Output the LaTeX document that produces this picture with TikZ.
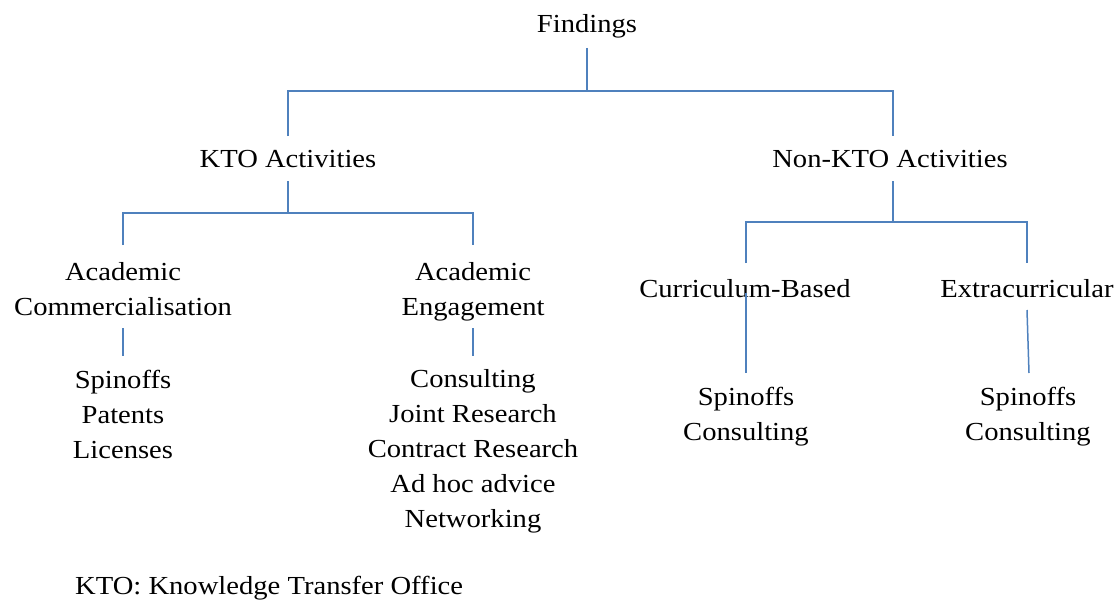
\documentclass[tikz,border=0pt]{standalone}
\usepackage{fontspec}
\setmainfont{Liberation Serif}[FakeStretch=1.1]
\definecolor{linec}{HTML}{4F81BD}
\newcommand{\lblfont}{\fontsize{26}{34.8}\selectfont}
\begin{document}
\begin{tikzpicture}[x=1pt,y=-1pt,
  conn/.style={draw=linec, line width=1.5pt},
  lbl/.style={inner sep=0pt, anchor=base, align=center, font=\lblfont}]
\useasboundingbox (0,0) rectangle (1120,602);

% labels (multi-line labels are placed by the baseline of their last line)
\node[lbl] (find) at (587,33) {Findings};
\node[lbl] (kto) at (288,167) {KTO Activities};
\node[lbl] (nkto) at (890,167) {Non-KTO Activities};
\node[lbl] (acom) at (123,315) {Academic\\Commercialisation};
\node[lbl] (aeng) at (473,315) {Academic\\Engagement};
\node[lbl] (cur) at (745,297) {Curriculum-Based};
\node[lbl] (ext) at (1027,297) {Extracurricular};
\node[lbl] (comlist) at (123,458) {Spinoffs\\Patents\\Licenses};
\node[lbl] (englist) at (473,527) {Consulting\\Joint Research\\Contract Research\\Ad hoc advice\\Networking};
\node[lbl] (curlist) at (746,440) {Spinoffs\\Consulting};
\node[lbl] (extlist) at (1028,440) {Spinoffs\\Consulting};
\node[lbl, anchor=base west] (note) at (75,594) {KTO: Knowledge Transfer Office};

% connector end points
\coordinate (fOut) at (587,48);
\coordinate (fBar) at (587,91);
\coordinate (kIn) at (288,136);
\coordinate (nIn) at (893,136);
\coordinate (kOut) at (288,181);
\coordinate (kBar) at (288,213);
\coordinate (acIn) at (123,245);
\coordinate (aeIn) at (473,245);
\coordinate (nOut) at (893,181);
\coordinate (nBar) at (893,222);
\coordinate (cuIn) at (746,263);
\coordinate (exIn) at (1027,263);
\coordinate (acOut) at (123,328);
\coordinate (acEnd) at (123,356);
\coordinate (aeOut) at (473,328);
\coordinate (aeEnd) at (473,356);
\coordinate (cuOut) at (746,293);
\coordinate (cuEnd) at (746,373);
\coordinate (exOut) at (1027,310);
\coordinate (exEnd) at (1029,373);

% tree connectors
\draw[conn] (fOut) -- (fBar);
\draw[conn] (kIn) -- (kIn |- fBar) -- (nIn |- fBar) -- (nIn);
\draw[conn] (kOut) -- (kBar);
\draw[conn] (acIn) -- (acIn |- kBar) -- (aeIn |- kBar) -- (aeIn);
\draw[conn] (nOut) -- (nBar);
\draw[conn] (cuIn) -- (cuIn |- nBar) -- (exIn |- nBar) -- (exIn);
\draw[conn] (acOut) -- (acEnd);
\draw[conn] (aeOut) -- (aeEnd);
\draw[conn] (cuOut) -- (cuEnd);
\draw[conn] (exOut) -- (exEnd);
\end{tikzpicture}
\end{document}
